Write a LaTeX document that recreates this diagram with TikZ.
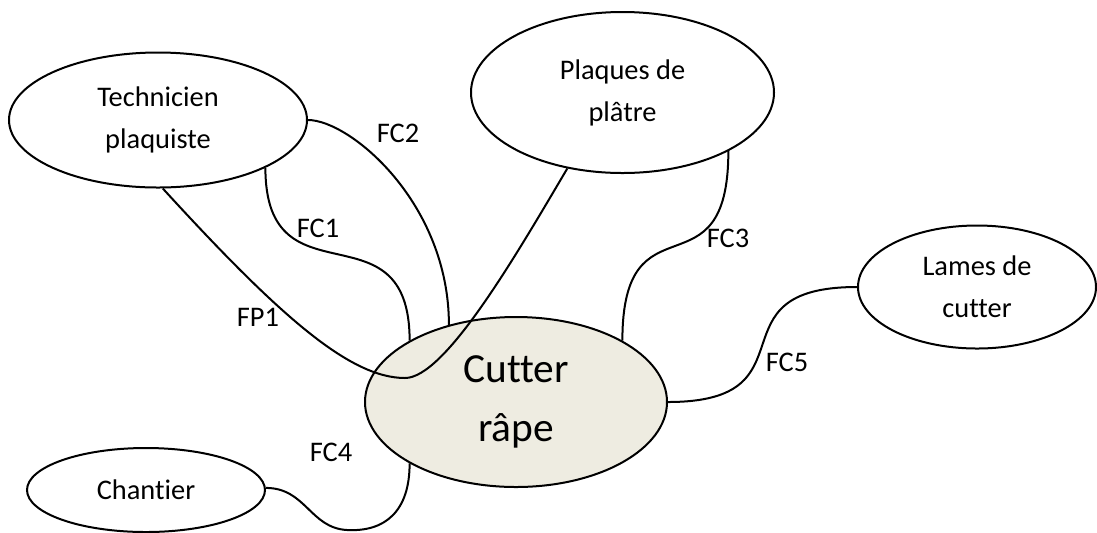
\documentclass[tikz,border=0pt]{standalone}
\usepackage{fontspec}
\setmainfont[Ligatures={NoCommon}]{Carlito}
\usetikzlibrary{shapes.geometric}
\definecolor{cCutter}{RGB}{238, 236, 225}
\definecolor{tDark}{RGB}{0, 0, 0}

\begin{document}
\begin{tikzpicture}[
    x=0.5pt, y=-0.5pt,
    font=\fontsize{14.2}{21}\selectfont,
    bubble/.style={
        ellipse,
        draw=tDark,
        line width=1pt,
        fill=white,
        align=center,
        inner sep=0pt
    },
    link/.style={line width=1pt, color=tDark},
    lbl/.style={inner sep=0pt, text=tDark}
]
\useasboundingbox (0,0) rectangle (1097,532);

% Outer elements
\node[bubble, minimum width=149pt, minimum height=67.5pt] (tech) at (158,120) {Technicien\\plaquiste};
\node[bubble, minimum width=151.5pt, minimum height=80.5pt] (plaq) at (622.5,92.5) {Plaques de\\plâtre};
\node[bubble, minimum width=119pt, minimum height=61.5pt] (lame) at (977,287) {Lames de\\cutter};
\node[bubble, minimum width=119pt, minimum height=42pt] (chan) at (146,490) {Chantier};

% Central element
\node[bubble, fill=cCutter, minimum width=151pt, minimum height=85pt,
      font=\fontsize{20.7}{29.5}\selectfont] (cut) at (516,402) {Cutter\\râpe};

% Functions
\coordinate (fp1low) at (405,378);
\coordinate (fc4low) at (347,530);
\draw[link] (tech.-86) .. controls +(117,128) and +(-55,0) .. (fp1low)
    .. controls +(40,0) and +(-52,88) .. (plaq.-126);
\draw[link] (tech.-24) .. controls +(0,140) and +(0,-140) .. (cut.150);
\draw[link] (tech.0) .. controls +(42,0) and +(0,-122) .. (cut.131);
\draw[link] (plaq.-29) .. controls +(0,150) and +(0,-150) .. (cut.30);
\draw[link] (chan.1) .. controls +(40,0) and +(-37,-2) .. (fc4low)
    .. controls +(38,2) and +(0,48) .. (cut.-150);
\draw[link] (cut.0) .. controls +(150,0) and +(-150,0) .. (lame.180);

% Labels
\node[lbl] (lfp1) at (258,317) {FP1};
\node[lbl] (lfc1) at (318,228) {FC1};
\node[lbl] (lfc2) at (398,133) {FC2};
\node[lbl] (lfc3) at (728,238) {FC3};
\node[lbl] (lfc4) at (331,452) {FC4};
\node[lbl] (lfc5) at (787,362) {FC5};

\end{tikzpicture}
\end{document}
